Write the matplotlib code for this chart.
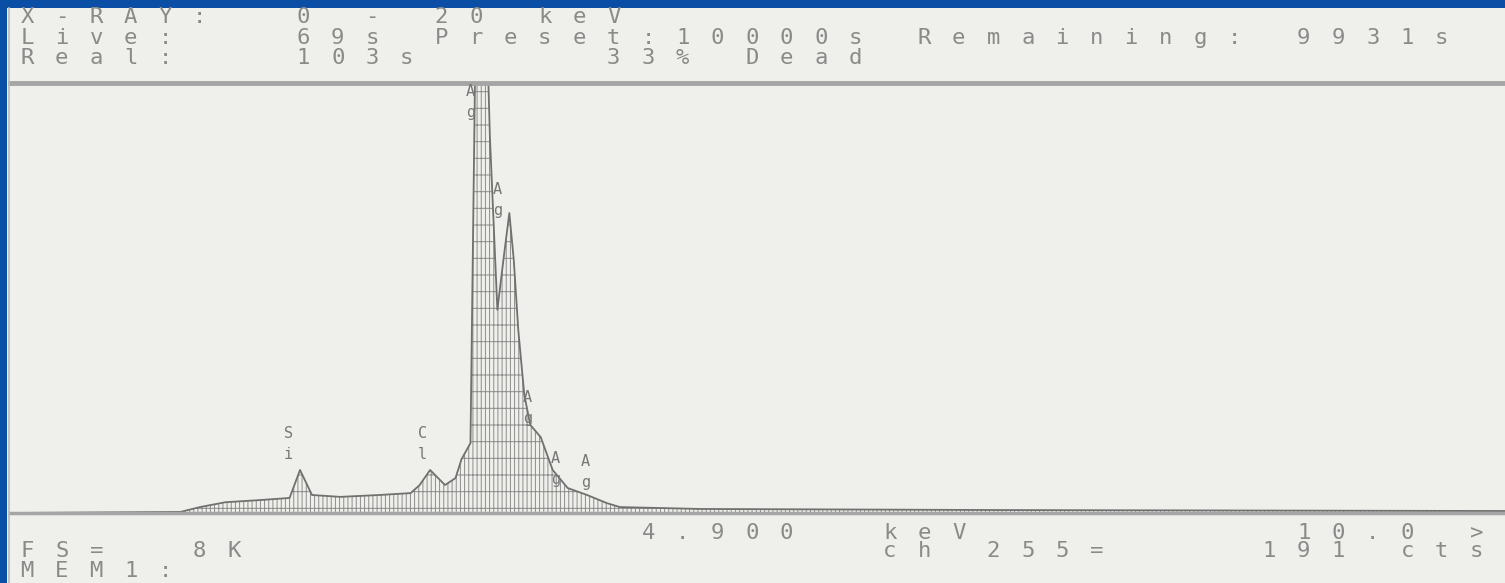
import matplotlib.pyplot as plt
from matplotlib.patches import Rectangle

# -----------------------------
# Spectrum (keV, counts; full scale = 8K)
# -----------------------------
energy = [0.0, 1.14, 1.27, 1.44, 1.67, 1.87, 1.94, 2.02, 2.21, 2.47, 2.68, 2.74,
          2.81, 2.91, 2.98, 3.02, 3.08, 3.11, 3.13, 3.18, 3.21, 3.26, 3.30, 3.34,
          3.37, 3.40, 3.44, 3.48, 3.55, 3.63, 3.73, 3.86, 3.99, 4.08, 4.62, 6.62, 10.0]
counts = [0, 20, 110, 200, 240, 280, 800, 335, 300, 335, 370, 520,
          800, 520, 650, 1000, 1300, 8000, 11000, 10000, 7000, 3780, 4700, 5580,
          4700, 3400, 2200, 1640, 1410, 800, 465, 335, 186, 110, 75, 55, 37]

# peak labels (two letters stacked)
label_text = ["S\ni", "C\nl", "A\ng", "A\ng", "A\ng", "A\ng", "A\ng"]
label_energy = [1.86, 2.76, 3.08, 3.26, 3.46, 3.65, 3.85]
label_counts = [1280, 1280, 7650, 5820, 1950, 820, 760]

full_scale = 8000
x_range = (0, 10)

# screen text lines, monospaced grid
header_lines = ["X-RAY:  0 - 20 keV",
                "Live:   69s Preset:10000s Remaining: 9931s",
                "Real:   103s     33% Dead"]
footer_lines = ["                  4.900  keV         10.0 >",
                "FS=  8K                  ch 255=    191 cts",
                "MEM1:"]

W, H = 1505, 583
BLUE = "#0a4ea6"
PANEL = "#efefeb"
GREY = "#8a8a8a"

plt.rcParams["hatch.linewidth"] = 0.7
plt.rcParams["hatch.color"] = "#8c8c8c"

fig = plt.figure(figsize=(W / 100, H / 100), dpi=100)
fig.patch.set_facecolor(BLUE)
fig.patches.append(Rectangle((7 / W, 0), 1, 1 - 8 / H, transform=fig.transFigure,
                             facecolor=PANEL, edgecolor="none", zorder=-5))
fig.add_artist(plt.Line2D([9 / W, 9 / W], [0, 1 - 8 / H], color="#b8b8b8", lw=1.2))


def screen_line(y, s, x0=10, pitch=34.5, size=16):
    # one character per cell, like the analyser's fixed-width screen font
    for i, ch in enumerate(s):
        if ch == " ":
            continue
        fig.text((x0 + pitch * (i + 0.5)) / W, 1 - y / H, ch, ha="center", va="center",
                 family="DejaVu Sans Mono", fontsize=size, color=GREY)


for y, line in zip([17, 38, 58], header_lines):
    screen_line(y, line)
for y, line in zip([533, 551, 571], footer_lines):
    screen_line(y, line)

# -----------------------------
# Spectrum area
# -----------------------------
ax = fig.add_axes([10 / W, (H - 513) / H, 1 - 10 / W, (513 - 83) / H])
ax.set_xlim(*x_range)
ax.set_ylim(0, full_scale)
ax.set_axis_off()

ax.fill_between(energy, counts, 0, facecolor="none", edgecolor="#8c8c8c",
                hatch="||||-", linewidth=0)
ax.plot(energy, counts, color="#707070", lw=1.3)
ax.axhline(full_scale, color="#a5a5a5", lw=3.5, clip_on=False)
ax.axhline(0, color="#a5a5a5", lw=2.5, clip_on=False)

for t, e, c in zip(label_text, label_energy, label_counts):
    ax.text(e, c, t, ha="center", va="center", family="DejaVu Sans Mono",
            fontsize=11, color="#777777", linespacing=1.45)

fig.savefig("out.png", dpi=100, facecolor=fig.get_facecolor())
